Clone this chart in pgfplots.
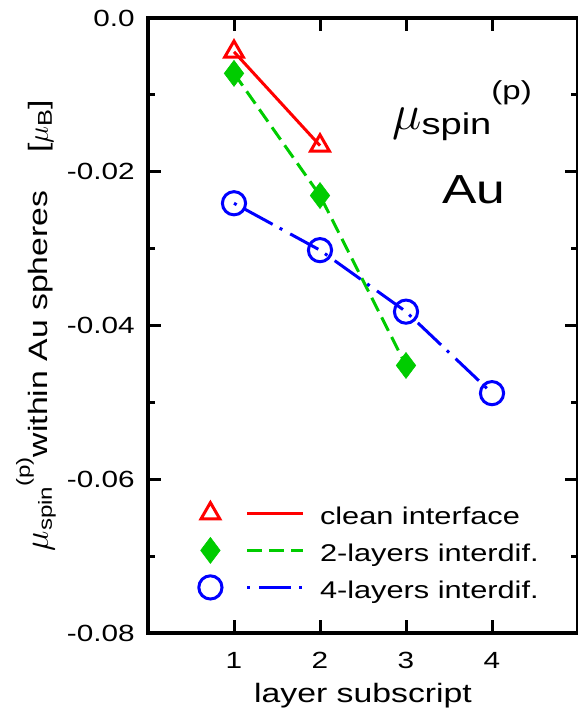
\documentclass[border=0pt]{standalone}
\usepackage{fontspec}
\setmainfont{Liberation Sans}[FakeStretch=1.27]
\usepackage{pgfplots}
\pgfplotsset{compat=1.18}
\definecolor{cred}{RGB}{255,0,0}
\definecolor{cgreen}{RGB}{0,204,0}
\definecolor{cblue}{RGB}{0,0,255}
\begin{document}
\begin{tikzpicture}
\begin{axis}[
  name=ax,
  width=215pt, height=307.5pt, scale only axis,
  xmin=0, xmax=5, ymin=-0.08, ymax=0,
  xtick={1,2,3,4}, xticklabels={1,2,3,4},
  ytick={-0.08,-0.06,-0.04,-0.02,0},
  yticklabels={-0.08,-0.06,-0.04,-0.02,0.0},
  minor ytick={-0.07,-0.05,-0.03,-0.01},
  tick align=inside,
  major tick length=6.5pt, minor tick length=3.6pt,
  every tick/.style={black, line width=1.5pt},
  axis line style={line width=1.6pt},
  /pgf/number format/assume math mode=true,
  ticklabel style={font=\fontsize{11.7}{12}\selectfont},
  yticklabel style={inner sep=0pt, xshift=-6.5pt},
  xticklabel style={inner sep=0pt, yshift=-9.5pt},
  xlabel={layer subscript},
  xlabel style={at={(rel axis cs:0.5,0)}, anchor=base, yshift=-34.5pt, inner sep=0pt, font=\fontsize{13.3}{14}\selectfont},
  clip=false,
  legend cell align=left,
  legend image code/.code={%
    \path[use as bounding box, draw=none, fill=none] (-8pt,-8pt) rectangle (47pt,8pt);
    \draw[#1] (18.5pt,0pt) -- (46.5pt,0pt);
    \path[#1, draw=none] plot coordinates {(0pt,0pt)};
  },
  legend style={at={(rel axis cs:0.107,0.2211)}, anchor=north west, draw=none, fill=none, inner sep=0pt,
    row sep=2.5pt, column sep=7.8pt,
    nodes={inner sep=0pt, text height=11pt, text depth=0pt, font=\fontsize{12.1}{13}\selectfont}},
]
\addplot[cred, line width=1.5pt, mark=triangle, mark size=5.4pt, mark options={solid, fill=white, line width=1.5pt}]
  coordinates {(1,-0.0044) (2,-0.0166)};
\addlegendentry{clean interface}
\addplot[cgreen, line width=1.5pt, dash pattern=on 7.5pt off 3.5pt, mark=diamond*, mark size=6.5pt, mark options={solid, fill=cgreen, line width=0.3pt}]
  coordinates {(1,-0.0072) (2,-0.0231) (3,-0.0452)};
\addlegendentry{2-layers interdif.}
\addplot[cblue, line width=1.5pt, dash pattern=on 1.5pt off 4.5pt on 16pt off 4pt, mark=o, mark size=5.8pt, mark options={solid, line width=1.5pt}]
  coordinates {(1,-0.0241) (2,-0.0302) (3,-0.0382) (4,-0.0488)};
\addlegendentry{4-layers interdif.}
\node[anchor=base west, inner sep=0pt] at (rel axis cs:0.567,0.818)
  {{\fontsize{27}{27}\selectfont$\mu$}\raisebox{-2.5pt}{\fontsize{15}{15}\selectfont spin}\raisebox{15pt}{\fontsize{13}{13}\selectfont (p)}};
\node[anchor=base, inner sep=0pt, font=\fontsize{20.3}{21}\selectfont] at (rel axis cs:0.758,0.699) {Au};
\node[anchor=base, inner sep=0pt, rotate=90, font=\fontsize{13.3}{14}\selectfont] at ([xshift=-50pt]rel axis cs:0,0.5)
  {{\fontsize{17}{17}\selectfont$\mu$}\raisebox{-2pt}{\fontsize{9.5}{10}\selectfont spin}\raisebox{9pt}{\fontsize{9.5}{10}\selectfont (p)}within Au spheres\hspace*{19pt}[{\fontsize{15}{15}\selectfont$\mu$}\raisebox{-2pt}{\fontsize{10}{10}\selectfont B}]};
\end{axis}
\pgfresetboundingbox
\path[use as bounding box] ([xshift=-74pt,yshift=-40.5pt]ax.south west) rectangle ([xshift=-0.5pt,yshift=9pt]ax.north east);
\end{tikzpicture}
\end{document}
